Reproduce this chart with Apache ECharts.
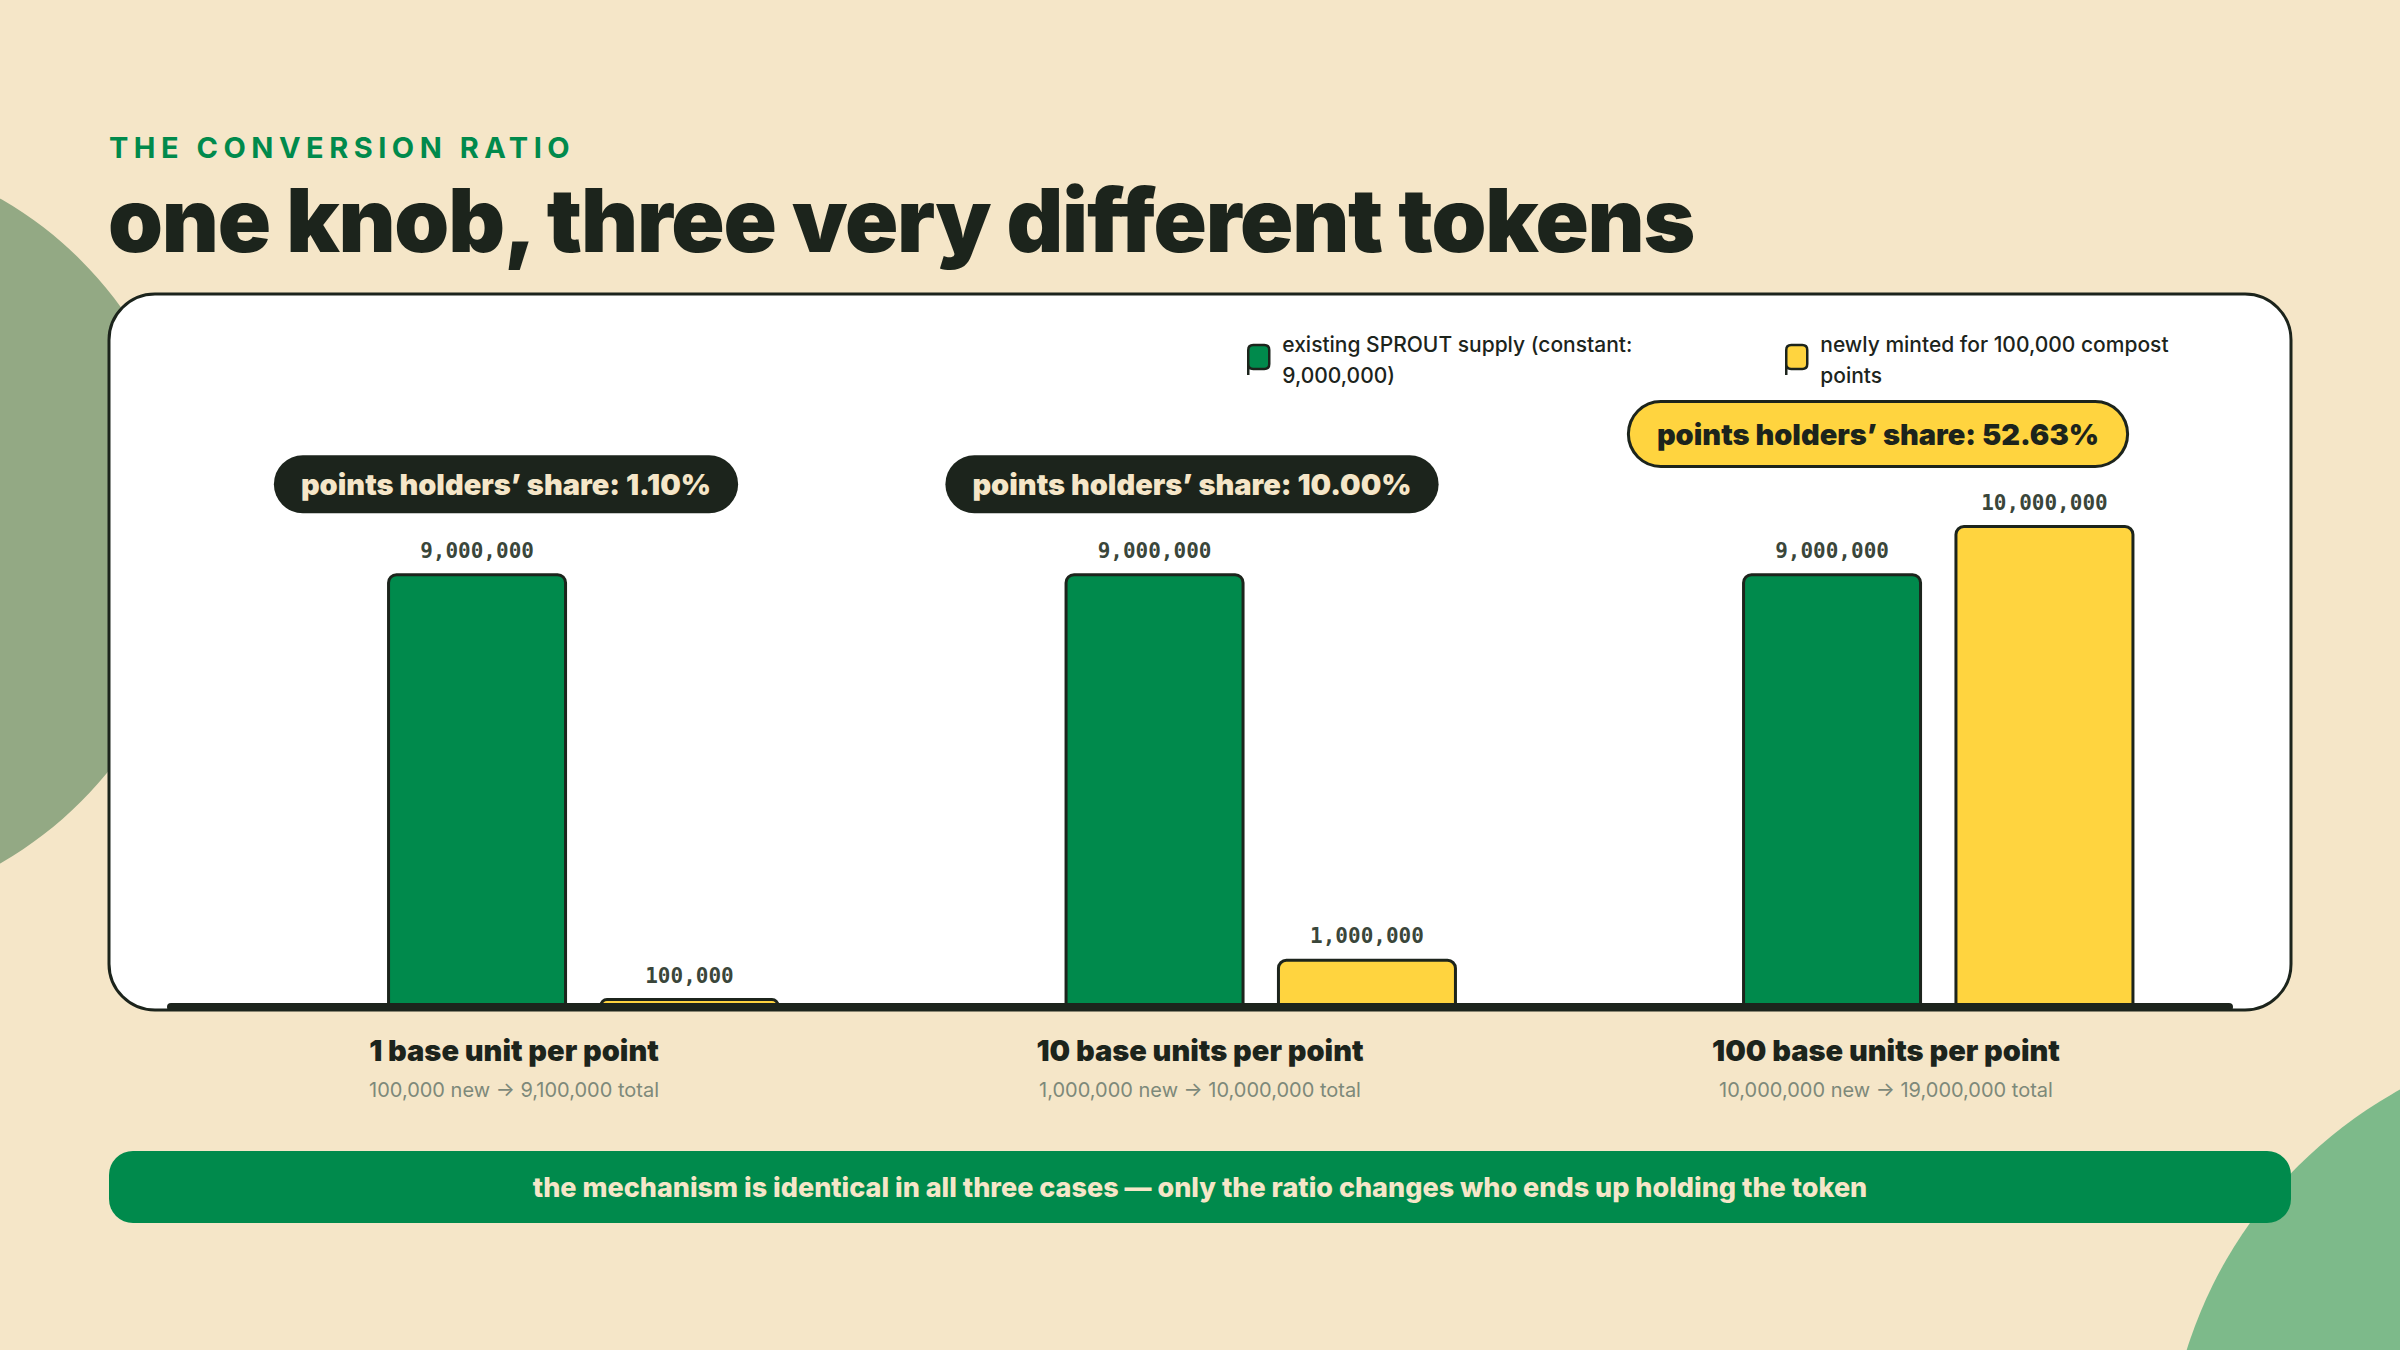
<!DOCTYPE html>
<html><head><meta charset="utf-8">
<script src="https://cdn.jsdelivr.net/npm/echarts@6/dist/echarts.min.js"></script>
<style>html,body{margin:0;padding:0;background:#f5e6c8}#c{width:2400px;height:1350px}</style>
</head><body><div id="c"></div>
<script>
// ---- data ----
const categories = ['1 base unit per point', '10 base units per point', '100 base units per point'];
const subLabels = ['100,000 new → 9,100,000 total', '1,000,000 new → 10,000,000 total', '10,000,000 new → 19,000,000 total'];
const existingSupply = [9000000, 9000000, 9000000];
const newlyMinted = [100000, 1000000, 10000000];
const shareLabels = ['points holders’ share: 1.10%', 'points holders’ share: 10.00%', 'points holders’ share: 52.63%'];
const seriesNames = ['existing SPROUT supply (constant: 9,000,000)', 'newly minted for 100,000 compost points'];
const legendLines = ['existing SPROUT supply (constant:\n9,000,000)', 'newly minted for 100,000 compost\npoints'];
const kicker = 'THE CONVERSION RATIO';
const headline = 'one knob, three very different tokens';
const footnote = 'the mechanism is identical in all three cases — only the ratio changes who ends up holding the token';

// ---- style ----
const DARK = '#1c241c', GREEN = '#008a4c', YELLOW = '#ffd43f', CREAM = '#f5e6c8';
const FONT = 'Inter, "Noto Sans", sans-serif';
const MONO = '"DejaVu Sans Mono", "Liberation Mono", monospace';
const fmt = v => v.toLocaleString('en-US');
const ICON = 'path://M0,5 Q0,0 5,0 L16,0 Q21,0 21,5 L21,19 Q21,24 16,24 L5,24 Q0,24 0,19 Z M0,17 L0,30';

const chart = echarts.init(document.getElementById('c'), null, {renderer: 'svg'});

const badgeData = categories.map((c, i) => {
  const majority = newlyMinted[i] > existingSupply[i];
  return {
    value: [c, Math.max(existingSupply[i], newlyMinted[i])],
    label: {
      formatter: shareLabels[i],
      backgroundColor: majority ? YELLOW : DARK,
      color: majority ? DARK : CREAM,
      borderColor: DARK,
      borderWidth: majority ? 3 : 0,
      padding: majority ? [17, 27, 17, 27] : [15, 27, 15, 27]
    }
  };
});

const barLabel = {
  show: true, position: 'top', distance: 12,
  formatter: p => fmt(p.value),
  fontFamily: MONO, fontSize: 21, fontWeight: 'bold', color: '#3a463a'
};

chart.setOption({
  backgroundColor: CREAM,
  animation: false,
  title: [
    {text: kicker, left: 109, top: 133, padding: 0,
     textStyle: {fontFamily: FONT, fontSize: 29, fontWeight: 700, color: GREEN, lineHeight: 29}},
    {text: headline, left: 108, top: 176, padding: 0,
     textStyle: {fontFamily: FONT, fontSize: 88, fontWeight: 900, color: DARK, lineHeight: 88}}
  ],
  legend: [
    {data: [seriesNames[0]], left: 1247, top: 329, padding: 0, itemWidth: 21, itemHeight: 30,
     icon: ICON, itemStyle: {borderColor: DARK, borderWidth: 2.5},
     formatter: () => legendLines[0],
     textStyle: {fontFamily: FONT, fontSize: 21, fontWeight: 500, color: DARK, lineHeight: 31, padding: [0, 0, 0, 8]}},
    {data: [seriesNames[1]], left: 1785, top: 329, padding: 0, itemWidth: 21, itemHeight: 30,
     icon: ICON, itemStyle: {borderColor: DARK, borderWidth: 2.5},
     formatter: () => legendLines[1],
     textStyle: {fontFamily: FONT, fontSize: 21, fontWeight: 500, color: DARK, lineHeight: 31, padding: [0, 0, 0, 8]}}
  ],
  graphic: [
    {type: 'circle', shape: {cx: -190, cy: 531, r: 383}, style: {fill: '#93a984'}, z: -10, silent: true},
    {type: 'circle', shape: {cx: 2617, cy: 1485, r: 451}, style: {fill: '#7dba8a'}, z: -10, silent: true},
    {type: 'rect', shape: {x: 109, y: 294, width: 2182, height: 716, r: 46},
     style: {fill: '#ffffff', stroke: DARK, lineWidth: 3}, z: -5, silent: true},
    {type: 'rect', shape: {x: 109, y: 1151, width: 2182, height: 72, r: 24},
     style: {fill: GREEN}, z: -5, silent: true},
    {type: 'text', x: 1200, y: 1187, z: 10, silent: true,
     style: {text: footnote, align: 'center', verticalAlign: 'middle', fill: CREAM,
             font: '800 27px ' + FONT}}
  ],
  grid: [
    {left: 244.5, right: 123, top: 525, bottom: 343, containLabel: false},
    {left: 171, right: 171, top: 525, bottom: 343, containLabel: false}
  ],
  xAxis: [
    {type: 'category', gridIndex: 0, data: categories, show: false},
    {type: 'category', gridIndex: 1, data: categories, z: 6,
     axisLine: {show: true, lineStyle: {color: DARK, width: 8}},
     axisTick: {show: false}, splitLine: {show: false},
     axisLabel: {
       interval: 0, margin: 23,
       formatter: (v, i) => '{a|' + v + '}\n{b|' + subLabels[i] + '}',
       rich: {
         a: {fontFamily: FONT, fontSize: 29, fontWeight: 900, color: DARK, lineHeight: 40},
         b: {fontFamily: FONT, fontSize: 20, fontWeight: 400, color: '#7d897a', lineHeight: 40}
       }
     }}
  ],
  yAxis: [
    {type: 'value', gridIndex: 0, min: 0, max: 10000000, show: false, splitLine: {show: false}},
    {type: 'value', gridIndex: 1, min: 0, max: 10000000, show: false, splitLine: {show: false}}
  ],
  series: [
    {name: seriesNames[0], type: 'bar', xAxisIndex: 0, yAxisIndex: 0, data: existingSupply,
     barWidth: 180, barGap: '18%', barMinHeight: 9,
     itemStyle: {color: GREEN, borderColor: DARK, borderWidth: 3, borderRadius: [8, 8, 0, 0]},
     label: barLabel},
    {name: seriesNames[1], type: 'bar', xAxisIndex: 0, yAxisIndex: 0, data: newlyMinted,
     barWidth: 180, barGap: '18%', barMinHeight: 9,
     itemStyle: {color: YELLOW, borderColor: DARK, borderWidth: 3, borderRadius: [8, 8, 0, 0]},
     label: barLabel},
    {name: 'share', type: 'scatter', xAxisIndex: 1, yAxisIndex: 1, z: 8,
     symbolSize: 0, data: badgeData, silent: true, itemStyle: {opacity: 1},
     label: {show: true, position: 'top', distance: 60, opacity: 1, offset: [-8, 0],
             fontFamily: FONT, fontSize: 29, fontWeight: 900, lineHeight: 28, borderRadius: 34}}
  ]
});

// letter-spacing for heading texts (SVG renderer keeps them as real <text>)
function applyTracking() {
  document.querySelectorAll('#c svg text').forEach(t => {
    const s = t.textContent.trim();
    if (s === kicker) t.style.letterSpacing = '5.5px';
    else if (s === headline) t.style.letterSpacing = '-1.2px';
  });
}
chart.on('finished', applyTracking);
applyTracking();
setTimeout(applyTracking, 50);
</script></body></html>
